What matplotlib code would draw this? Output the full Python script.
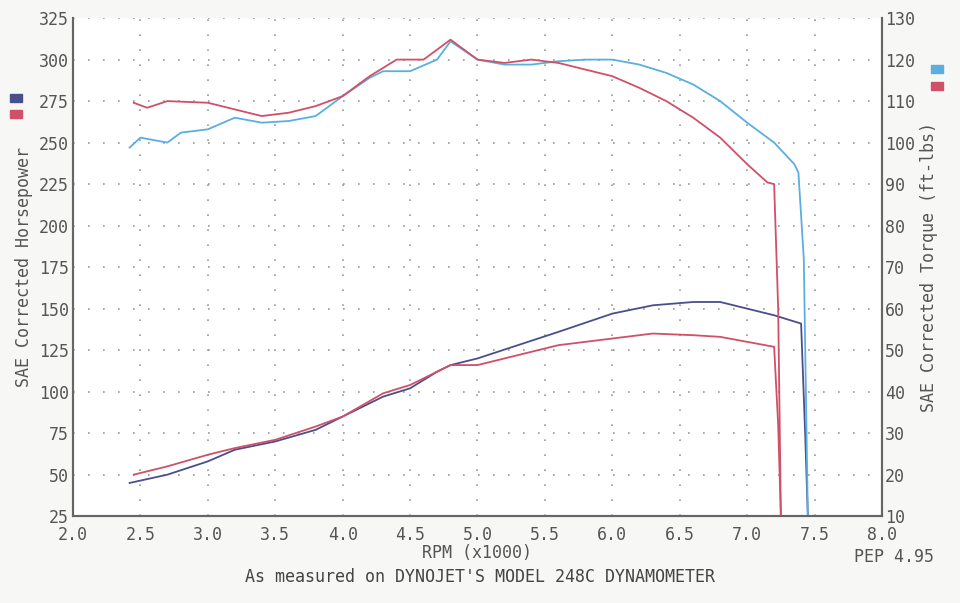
import matplotlib.pyplot as plt
import numpy as np

# horsepower runs (left axis)
hp_rpm_a = [2.42, 2.7, 3.0, 3.2, 3.5, 3.8, 4.0, 4.3, 4.5, 4.7, 4.8, 5.0, 5.3, 5.6, 6.0, 6.3, 6.6, 6.8, 7.0, 7.2, 7.4, 7.43, 7.45]
hp_a = [45, 50, 58, 65, 70, 77, 85, 97, 102, 112, 116, 120, 128, 136, 147, 152, 154, 154, 150, 146, 141, 75, 25]
hp_rpm_b = [2.45, 2.7, 3.0, 3.2, 3.5, 3.8, 4.0, 4.3, 4.5, 4.7, 4.8, 5.0, 5.3, 5.6, 6.0, 6.3, 6.6, 6.8, 7.0, 7.2, 7.23, 7.25]
hp_b = [50, 55, 62, 66, 71, 79, 85, 99, 104, 112, 116, 116, 122, 128, 132, 135, 134, 133, 130, 127, 80, 25]

# torque runs (right axis, ft-lbs)
tq_rpm_a = [2.42, 2.5, 2.7, 2.8, 3.0, 3.2, 3.4, 3.6, 3.8, 4.0, 4.2, 4.3, 4.5, 4.7, 4.8, 5.0, 5.2, 5.4, 5.6, 5.8, 6.0, 6.2, 6.4, 6.6, 6.8, 7.0, 7.2, 7.35, 7.38, 7.42, 7.45]
tq_a = [98.8, 101.2, 100, 102.4, 103.2, 106, 104.8, 105.2, 106.4, 111.2, 115.6, 117.2, 117.2, 120, 124.4, 120, 118.8, 118.8, 119.6, 120, 120, 118.8, 116.8, 114, 110, 104.8, 100, 94.8, 92.8, 72, 10]
tq_rpm_b = [2.45, 2.55, 2.7, 3.0, 3.2, 3.4, 3.6, 3.8, 4.0, 4.2, 4.4, 4.6, 4.8, 5.0, 5.2, 5.4, 5.6, 5.8, 6.0, 6.2, 6.4, 6.6, 6.8, 7.0, 7.15, 7.2, 7.23, 7.25]
tq_b = [109.6, 108.4, 110, 109.6, 108, 106.4, 107.2, 108.8, 111.2, 116, 120, 120, 124.8, 120, 119.2, 120, 119.2, 117.6, 116, 113.2, 110, 106, 101.2, 94.8, 90.4, 90, 60, 10]

dark_blue = '#4a4f8c'
light_blue = '#5aaee0'
red = '#d05068'
grey = '#666666'

plt.rcParams['font.family'] = 'DejaVu Sans Mono'
fig = plt.figure(figsize=(9.6, 6.03), dpi=100, facecolor='#f7f7f5')
ax = fig.add_axes([73 / 960, 0.144, 809 / 960, 0.826], facecolor='white')
ax2 = ax.twinx()

ax.plot(hp_rpm_a, hp_a, color=dark_blue, lw=1.3)
ax.plot(hp_rpm_b, hp_b, color=red, lw=1.3)
ax2.plot(tq_rpm_a, tq_a, color=light_blue, lw=1.3)
ax2.plot(tq_rpm_b, tq_b, color=red, lw=1.3)

ax.set_xlim(2.0, 8.0)
ax.set_ylim(25, 325)
ax2.set_ylim(10, 130)
ax.set_xticks(np.arange(2.0, 8.01, 0.5))
ax.set_yticks(range(25, 326, 25))
ax2.set_yticks(range(10, 131, 10))
ax.set_xticklabels(['%.1f' % v for v in np.arange(2.0, 8.01, 0.5)])

ax.grid(True, color='#999999', linestyle=(0, (1, 8)), lw=1.2)
for a in (ax, ax2):
    a.spines['top'].set_visible(False)
    for s in ('left', 'right', 'bottom'):
        a.spines[s].set_color(grey)
        a.spines[s].set_linewidth(1.5)
    a.tick_params(colors=grey, labelsize=12, length=0, labelcolor='#555555')
ax.tick_params(axis='x', pad=7)
ax.tick_params(axis='y', pad=3)
ax2.tick_params(axis='y', pad=2)

ax.set_ylabel('SAE Corrected Horsepower', fontsize=12, color='#555555')
ax2.set_ylabel('SAE Corrected Torque (ft-lbs)', fontsize=12, color='#555555')
ax.set_xlabel('RPM (x1000)', fontsize=12, color='#555555', labelpad=0)

fig.text(0.5, 0.035, "As measured on DYNOJET'S MODEL 248C DYNAMOMETER", ha='center', fontsize=12, color='#444444')
fig.text(0.89, 0.068, 'PEP 4.95', ha='left', fontsize=12, color='#555555')

# legend swatches
fig.patches.append(plt.Rectangle((10 / 960, 1 - 102 / 603), 12 / 960, 8 / 603, transform=fig.transFigure, color=dark_blue))
fig.patches.append(plt.Rectangle((10 / 960, 1 - 118 / 603), 12 / 960, 8 / 603, transform=fig.transFigure, color=red))
fig.patches.append(plt.Rectangle((931 / 960, 1 - 73 / 603), 12 / 960, 8 / 603, transform=fig.transFigure, color=light_blue))
fig.patches.append(plt.Rectangle((931 / 960, 1 - 90 / 603), 12 / 960, 8 / 603, transform=fig.transFigure, color=red))

fig.savefig('out.png', dpi=100, facecolor=fig.get_facecolor())
